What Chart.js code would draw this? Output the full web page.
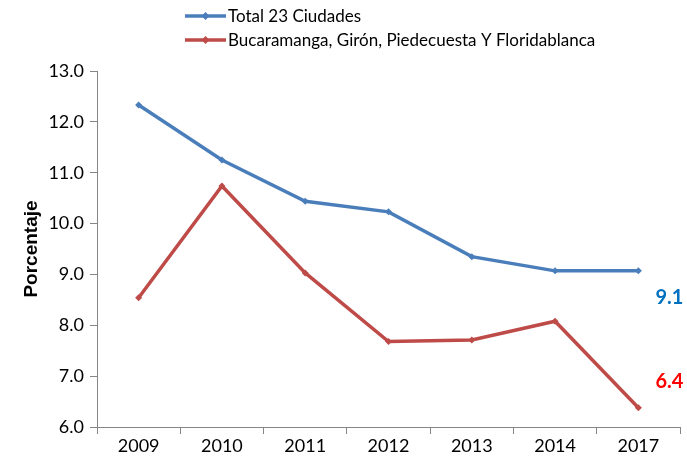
<!DOCTYPE html>
<html>
<head>
<meta charset="UTF-8">
<style>
  html, body { margin: 0; padding: 0; background: #fff; }
  #wrap { width: 687px; height: 461px; }
</style>
</head>
<body>
<div id="wrap"><canvas id="chart" width="687" height="461"></canvas></div>
<script src="https://cdn.jsdelivr.net/npm/chart.js@4/dist/chart.umd.min.js"></script>
<script>
  const years = ['2009', '2010', '2011', '2012', '2013', '2014', '2017']
  const total23 = [12.33, 11.25, 10.44, 10.23, 9.35, 9.07, 9.07]
  const bucaramanga = [8.54, 10.74, 9.03, 7.68, 7.71, 8.08, 6.38]
  const seriesNames = ['Total 23 Ciudades', 'Bucaramanga, Girón, Piedecuesta Y Floridablanca']
  const endLabels = ['9.1', '6.4']

  const font = 'Lato, "Open Sans", sans-serif'
  const blue = '#4A7EBB'
  const red = '#BE4B48'
  const axisGray = '#868686'

  // legend drawn by hand: line + diamond, stacked in two rows
  const legendPlugin = {
    id: 'stackLegend',
    afterDraw(chart) {
      const ctx = chart.ctx
      ctx.save()
      chart.data.datasets.forEach((ds, i) => {
        const y = 16 + i * 24
        ctx.strokeStyle = ds.borderColor
        ctx.lineWidth = 3.5
        ctx.beginPath()
        ctx.moveTo(185, y)
        ctx.lineTo(226, y)
        ctx.stroke()
        ctx.fillStyle = ds.borderColor
        ctx.beginPath()
        ctx.moveTo(205.5, y - 4)
        ctx.lineTo(209.5, y)
        ctx.lineTo(205.5, y + 4)
        ctx.lineTo(201.5, y)
        ctx.closePath()
        ctx.fill()
        ctx.fillStyle = '#000'
        ctx.font = '17px ' + font
        ctx.textBaseline = 'middle'
        ctx.fillText(ds.label, 228, y + 1)
      })
      ctx.restore()
    }
  }

  // bold value labels next to the last points
  const endLabelPlugin = {
    id: 'endLabels',
    afterDatasetsDraw(chart) {
      const ctx = chart.ctx
      const colors = ['#0070C0', '#FF0000']
      const shifts = [27, -26]
      ctx.save()
      ctx.font = 'bold 20px ' + font
      ctx.textAlign = 'center'
      ctx.textBaseline = 'middle'
      chart.data.datasets.forEach((ds, i) => {
        const pt = chart.getDatasetMeta(i).data[ds.data.length - 1]
        ctx.fillStyle = colors[i]
        ctx.fillText(endLabels[i], pt.x + 31, pt.y + shifts[i])
      })
      ctx.restore()
    }
  }

  const ctx = document.getElementById('chart').getContext('2d')
  const chart = new Chart(ctx, {
    type: 'line',
    data: {
      labels: years,
      datasets: [
        { label: seriesNames[0], data: total23, borderColor: blue, backgroundColor: blue },
        { label: seriesNames[1], data: bucaramanga, borderColor: red, backgroundColor: red }
      ]
    },
    options: {
      responsive: false,
      animation: false,
      layout: { padding: { top: 71, right: 7, left: 0, bottom: 0 } },
      elements: {
        line: { borderWidth: 3.5, tension: 0 },
        point: { pointStyle: 'rectRot', radius: 3.5, borderWidth: 0 }
      },
      plugins: { legend: { display: false }, tooltip: { enabled: false } },
      scales: {
        x: {
          offset: true,
          grid: { offset: true, drawOnChartArea: false, drawTicks: true, tickLength: 7, color: axisGray },
          border: { color: axisGray, width: 1 },
          ticks: { color: '#000', font: { family: font, size: 18 }, padding: 1, maxRotation: 0 },
          afterFit: s => { s.height = 34 }
        },
        y: {
          min: 6, max: 13,
          grid: { drawOnChartArea: false, drawTicks: true, tickLength: 7, color: axisGray },
          border: { color: axisGray, width: 1 },
          ticks: { stepSize: 1, color: '#000', font: { family: font, size: 18 }, padding: 6,
                   callback: v => v.toFixed(1) },
          title: { display: true, text: 'Porcentaje', color: '#000',
                   font: { family: '"Liberation Sans", Arial, sans-serif', size: 19, weight: 'bold' },
                   padding: { top: 20, bottom: 0 } },
          afterFit: s => { s.width = 97 }
        }
      }
    },
    plugins: [legendPlugin, endLabelPlugin]
  })
</script>
</body>
</html>
